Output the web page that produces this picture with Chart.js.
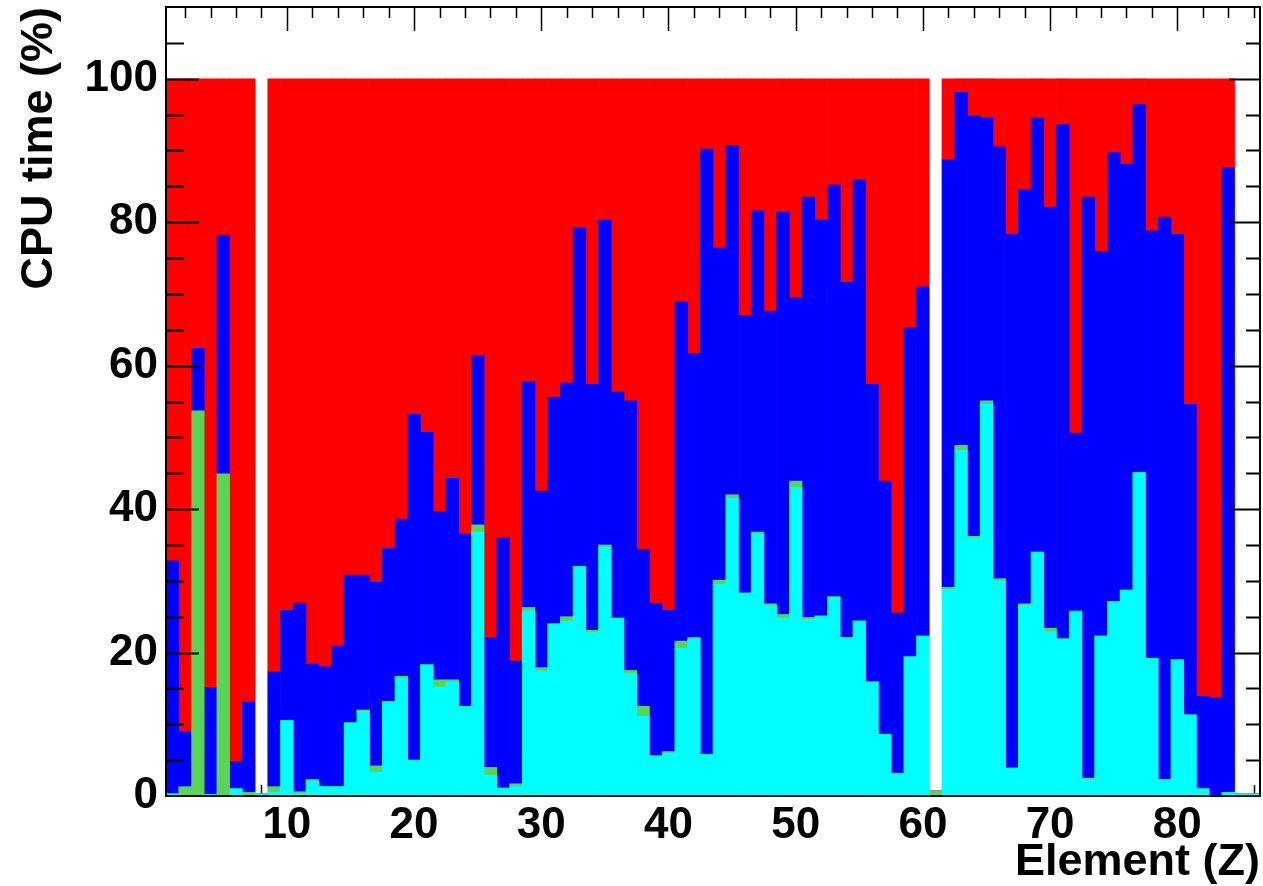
<!DOCTYPE html>
<html>
<head>
<meta charset="utf-8">
<title>CPU time per element</title>
<script src="https://cdn.jsdelivr.net/npm/chart.js@4.4.1/dist/chart.umd.min.js"></script>
<style>
    body { margin: 0; background: #fff; }
    #wrap { width: 1263px; height: 886px; position: relative; }
</style>
</head>
<body>
<div id="wrap"><canvas id="cpuChart"></canvas></div>
<script>
// Element numbers Z = 1..86 (one bin per element)
const elements = Array.from({ length: 86 }, (_, i) => i + 1);

// CPU time share (%) per element, stacked bottom to top: cyan, green, blue, red
const cyanPct = [
    0.3, 0, 0, 0.2, 0, 1.0, 0, 0.3, 0.5, 10.5,
    0.3, 2.1, 1.3, 1.3, 10.2, 11.8, 3.3, 13.2, 16.4, 5.0,
    18.3, 15.2, 15.9, 12.5, 36.8, 2.9, 1.1, 1.3, 25.8, 17.4,
    24.0, 24.4, 32.0, 22.8, 34.7, 24.8, 17.1, 11.1, 5.6, 6.0,
    20.6, 21.9, 5.8, 29.5, 41.5, 28.3, 36.5, 26.5, 24.8, 43.0,
    24.6, 25.1, 27.7, 22.1, 24.4, 15.9, 8.6, 3.0, 19.4, 22.3,
    0, 28.8, 48.2, 36.0, 54.6, 30.0, 3.9, 26.6, 34.0, 22.9,
    21.9, 25.6, 2.3, 22.3, 27.1, 28.7, 45.1, 19.2, 2.3, 19.0,
    11.3, 1.0, 0, 0.5, 0.3, 0.3
];
const greenPct = [
    0, 1.3, 53.7, 0, 44.9, 0, 0.5, 0, 0.8, 0,
    0.3, 0.2, 0, 0, 0, 0.2, 0.9, 0, 0.3, 0,
    0, 1.0, 0.3, 0, 1.0, 1.1, 0, 0.4, 0.5, 0.5,
    0, 0.6, 0, 0.3, 0.3, 0, 0.4, 1.4, 0, 0.2,
    1.0, 0.2, 0, 0.6, 0.5, 0, 0.3, 0.3, 0.5, 0.9,
    0.3, 0, 0.1, 0, 0, 0, 0, 0.2, 0, 0,
    0.7, 0.3, 0.7, 0.2, 0.5, 0.3, 0, 0.2, 0, 0.5,
    0, 0.2, 0.2, 0, 0, 0, 0, 0, 0, 0,
    0, 0, 0, 0, 0, 0
];
const bluePct = [
    32.5, 7.7, 8.7, 14.9, 33.3, 3.8, 12.6, 0, 16.0, 15.4,
    26.3, 16.1, 16.7, 19.6, 20.6, 18.8, 25.6, 21.3, 21.9, 48.2,
    32.4, 23.5, 28.1, 24.0, 23.6, 18.1, 34.9, 17.1, 31.5, 24.6,
    31.6, 32.6, 47.2, 34.3, 45.3, 31.5, 37.6, 21.9, 21.3, 19.7,
    47.3, 39.6, 84.4, 46.3, 48.7, 38.7, 44.8, 40.8, 56.1, 25.6,
    58.6, 55.2, 57.4, 49.5, 61.5, 41.5, 35.3, 22.3, 45.9, 48.7,
    0, 59.6, 49.2, 58.6, 39.4, 60.2, 74.4, 57.7, 60.5, 58.7,
    71.7, 24.8, 81.0, 53.6, 62.6, 59.4, 51.3, 59.6, 78.4, 59.3,
    43.3, 12.9, 13.7, 87.1, 0, 0
];
// bins where the shares do not add up to 100 (no red part)
const incompleteBins = [8, 61, 85, 86];
// red is the rest of the 100 %
const redPct = elements.map((z, i) =>
    incompleteBins.includes(z) ? 0 : +(100 - cyanPct[i] - greenPct[i] - bluePct[i]).toFixed(1));

const xTickValues = [10, 20, 30, 40, 50, 60, 70, 80];
const yTickValues = [0, 20, 40, 60, 80, 100];

const fontFamily = "'Liberation Sans', Arial, sans-serif";
const tickFont = { family: fontFamily, size: 44, weight: 'bold' };
const titleFont = { family: fontFamily, size: 45, weight: 'bold', lineHeight: 1.2 };

// ROOT style frame with inward ticks on all four sides
const frameTicks = {
    id: 'frameTicks',
    beforeDatasetsDraw(chart) {
        const { ctx, chartArea: a, scales: { x } } = chart;
        ctx.save();
        ctx.strokeStyle = '#000';
        ctx.lineWidth = 1.5;
        ctx.beginPath();
        elements.forEach((z, i) => {
            if (z % 2 !== 0) return;
            const px = Math.round(x.getPixelForValue(i)) + 0.5;
            const len = z % 10 === 0 ? 24 : 11;
            ctx.moveTo(px, a.bottom); ctx.lineTo(px, a.bottom - len);
            ctx.moveTo(px, a.top); ctx.lineTo(px, a.top + len);
        });
        ctx.stroke();
        ctx.restore();
    },
    afterDatasetsDraw(chart) {
        const { ctx, chartArea: a, scales: { y } } = chart;
        ctx.save();
        ctx.strokeStyle = '#000';
        ctx.lineWidth = 2;
        ctx.beginPath();
        for (let v = 5; v < 110; v += 5) {
            const py = Math.round(y.getPixelForValue(v)) + 0.5;
            const major = v % 20 === 0;
            ctx.moveTo(a.left, py); ctx.lineTo(a.left + (major ? 33 : 18), py);
            ctx.moveTo(a.right, py); ctx.lineTo(a.right - (major ? 31 : 14), py);
        }
        ctx.stroke();
        ctx.strokeRect(a.left, a.top, a.right - a.left, a.bottom - a.top);
        ctx.restore();
    }
};

function makeDataset(label, data, color) {
    return {
        label: label,
        data: data,
        backgroundColor: color,
        borderWidth: 0,
        barPercentage: 1.0,
        categoryPercentage: 1.0
    };
}

function createChart() {
    const ctx = document.getElementById('cpuChart').getContext('2d');
    new Chart(ctx, {
        type: 'bar',
        data: {
            labels: elements,
            datasets: [
                makeDataset('cyan', cyanPct, '#00ffff'),
                makeDataset('green', greenPct, '#59d454'),
                makeDataset('blue', bluePct, '#0000ff'),
                makeDataset('red', redPct, '#ff0000')
            ]
        },
        options: {
            responsive: true,
            maintainAspectRatio: false,
            devicePixelRatio: 1,
            animation: false,
            layout: { padding: { top: 7, right: 3, left: 0, bottom: 0 } },
            plugins: {
                legend: { display: false },
                tooltip: { enabled: false }
            },
            scales: {
                x: {
                    stacked: true,
                    offset: true,
                    grid: { display: false, drawTicks: false },
                    border: { display: false },
                    afterBuildTicks: scale => {
                        scale.ticks = xTickValues.map(z => ({ value: elements.indexOf(z) }));
                    },
                    afterFit: scale => {
                        scale.height = 90;
                        scale.paddingLeft = 0;
                        scale.paddingRight = 0;
                    },
                    ticks: {
                        autoSkip: false,
                        maxRotation: 0,
                        padding: 3,
                        color: '#000',
                        font: tickFont
                    },
                    title: {
                        display: true,
                        text: 'Element (Z)',
                        align: 'end',
                        color: '#000',
                        font: { ...titleFont, lineHeight: 1.02 },
                        padding: { top: 0, bottom: 0 }
                    }
                },
                y: {
                    stacked: true,
                    min: 0,
                    max: 110,
                    grid: { display: false, drawTicks: false },
                    border: { display: false },
                    afterBuildTicks: scale => {
                        scale.ticks = yTickValues.map(v => ({ value: v }));
                    },
                    afterFit: scale => {
                        scale.width = 166;
                        // the top label (100) sits below the frame, so no extra room is needed
                        scale.paddingTop = 0;
                        scale.paddingBottom = 0;
                    },
                    ticks: {
                        padding: 8,
                        color: '#000',
                        font: tickFont
                    },
                    title: {
                        display: true,
                        text: 'CPU time (%)',
                        align: 'end',
                        color: '#000',
                        font: titleFont,
                        padding: { top: 13, bottom: 0 }
                    }
                }
            }
        },
        plugins: [frameTicks]
    });
}

document.addEventListener('DOMContentLoaded', createChart);
</script>
</body>
</html>
